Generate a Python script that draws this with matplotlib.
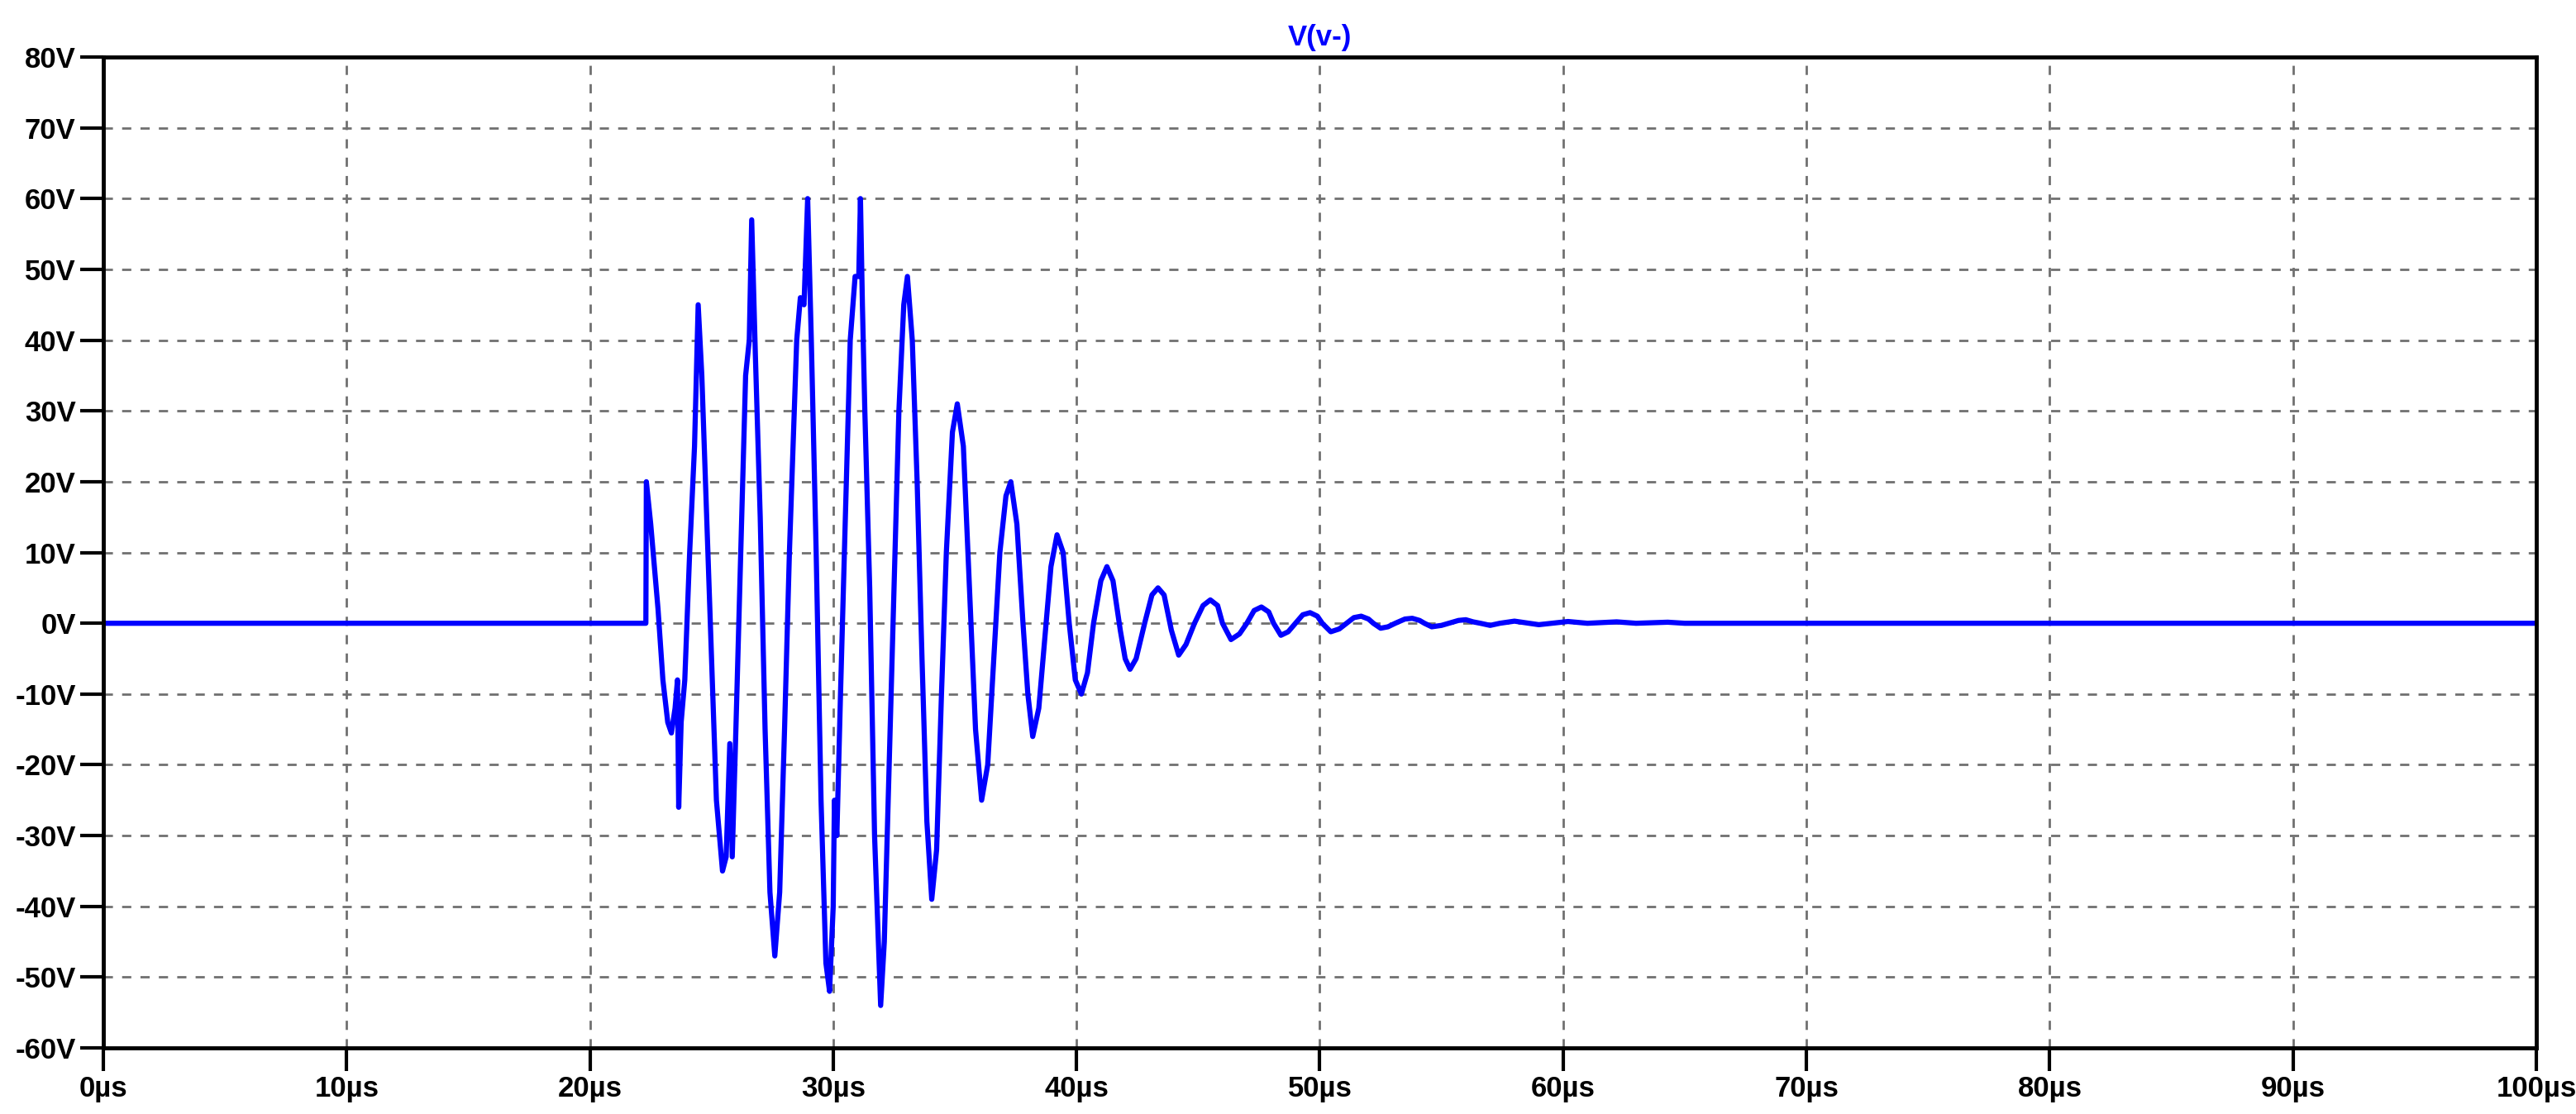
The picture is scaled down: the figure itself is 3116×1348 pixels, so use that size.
import matplotlib
matplotlib.use("Agg")
import matplotlib.pyplot as plt
import matplotlib.ticker as ticker

# waveform V(v-): time (µs), voltage (V)
t_us = [0, 22.3, 22.32, 22.5, 22.8, 23.0, 23.2, 23.35, 23.5, 23.6, 23.65, 23.75, 23.9,
        24.1, 24.3, 24.45, 24.6, 24.8, 25.0, 25.2, 25.45, 25.6, 25.75, 25.85, 26.0,
        26.2, 26.4, 26.55, 26.65, 26.8, 27.0, 27.2, 27.4, 27.6, 27.8, 28.0, 28.2,
        28.5, 28.65, 28.8, 28.95, 29.1, 29.3, 29.5, 29.7, 29.85, 30.0, 30.05, 30.15,
        30.3, 30.5, 30.7, 30.9, 31.05, 31.12, 31.2, 31.3, 31.5, 31.7, 31.95, 32.1,
        32.3, 32.5, 32.7, 32.9, 33.05, 33.25, 33.45, 33.65, 33.85, 34.05, 34.25, 34.45,
        34.65, 34.9, 35.1, 35.35, 35.6, 35.85, 36.1, 36.35, 36.6, 36.85, 37.1, 37.3,
        37.55, 37.8, 38.0, 38.2, 38.45, 38.7, 38.95, 39.2, 39.45, 39.7, 39.95, 40.2,
        40.45, 40.7, 41.0, 41.25, 41.5, 41.8, 42.0, 42.2, 42.45, 42.8, 43.1, 43.35,
        43.6, 43.9, 44.2, 44.5, 44.85, 45.2, 45.5, 45.8, 46.0, 46.35, 46.7, 47.0,
        47.3, 47.6, 47.9, 48.1, 48.4, 48.7, 49.0, 49.3, 49.6, 49.9, 50.1, 50.45,
        50.8, 51.1, 51.4, 51.7, 52.0, 52.2, 52.5, 52.8, 53.1, 53.5, 53.8, 54.1,
        54.3, 54.6, 55.0, 55.3, 55.7, 56.0, 56.3, 56.6, 57.0, 57.4, 58.0, 58.6,
        59.0, 60.2, 61.0, 62.2, 63.0, 64.3, 65.0, 100]
v_volt = [0, 0, 20, 14, 2, -8, -14, -15.5, -12, -8, -26, -14, -8,
          10, 25, 45, 35, 15, -5, -25, -35, -33, -17, -33, -15,
          10, 35, 40, 57, 38, 15, -15, -38, -47, -38, -15, 10,
          40, 46, 45, 60, 40, 10, -25, -48, -52, -40, -25, -30,
          -10, 15, 40, 49, 49, 60, 45, 30, 5, -30, -54, -45,
          -20, 5, 30, 45, 49, 40, 20, -5, -28, -39, -32, -10,
          10, 27, 31, 25, 5, -15, -25, -20, -5, 10, 18, 20,
          14, 0, -10, -16, -12, -2, 8, 12.5, 10, 0, -8, -10,
          -7, 0, 6, 8, 6, -1, -5, -6.5, -5, 0, 4, 5,
          4, -1, -4.5, -3, 0, 2.5, 3.3, 2.5, 0, -2.3, -1.5, 0,
          1.8, 2.3, 1.6, 0, -1.7, -1.2, 0, 1.2, 1.5, 1.0, 0, -1.2,
          -0.8, 0, 0.8, 1.0, 0.6, 0, -0.7, -0.5, 0, 0.6, 0.7, 0.4,
          0, -0.5, -0.3, 0, 0.4, 0.5, 0.2, 0, -0.3, 0, 0.3, 0,
          -0.2, 0.25, 0, 0.2, 0, 0.15, 0, 0]

Y_TICKS = list(range(-60, 81, 10))
X_TICKS = list(range(0, 101, 10))

fig = plt.figure(figsize=(31.16, 13.48), dpi=100)
ax = fig.add_axes([0.0401, 0.0593, 0.9445, 0.8895])

ax.plot(t_us, v_volt, color="#0000ff", linewidth=4.5)

ax.set_xlim(0, 100)
ax.set_ylim(-60, 80)
ax.set_xticks(X_TICKS)
ax.set_yticks(Y_TICKS)
ax.xaxis.set_major_formatter(ticker.FuncFormatter(lambda v, _: f"{v:.0f}µs"))
ax.yaxis.set_major_formatter(ticker.FuncFormatter(lambda v, _: f"{v:.0f}V"))
ax.tick_params(direction="out", length=20, width=3, labelsize=25, pad=4)
for lab in ax.get_xticklabels() + ax.get_yticklabels():
    lab.set_fontweight("bold")
    lab.set_family("Liberation Sans")
ax.grid(True, color="#707070", linestyle=(0, (4, 4)), linewidth=2)
for s in ax.spines.values():
    s.set_linewidth(3.5)

ax.set_title("V(v-)", color="#0000ff", fontsize=25, fontweight="bold",
             family="Liberation Sans", pad=10)

fig.savefig("out.png", dpi=100, facecolor="white")
